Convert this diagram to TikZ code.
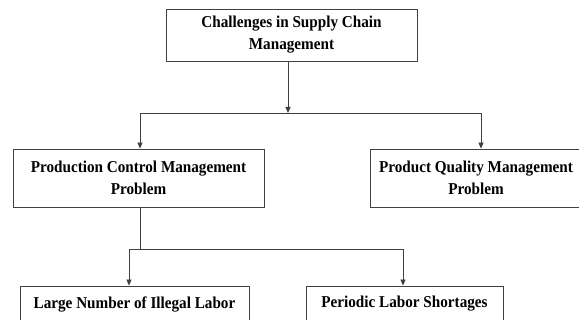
\documentclass[tikz,border=0pt]{standalone}
\usepackage{fontspec}
\setmainfont{Liberation Serif}[FakeStretch=0.915]
\usetikzlibrary{arrows.meta}

\begin{document}
\begin{tikzpicture}[x=1pt, y=-1pt,
    box/.style={draw=black!75, line width=0.8pt, align=center, inner sep=0pt,
        font=\fontsize{16.6}{22}\selectfont\bfseries},
    link/.style={draw=black!75, line width=0.8pt},
    >={Triangle[length=6pt, width=5pt]}]
    \useasboundingbox (0,0) rectangle (579,320);
    \clip (0,0) rectangle (579,320);

    % top level
    \node[box, minimum width=251pt, minimum height=52pt] (scm) at (291.5,35) {Challenges in Supply Chain\\Management};

    % second level
    \node[box, minimum width=251pt, minimum height=58pt] (pcm) at (138.5,178) {Production Control Management\\Problem};
    \node[box, minimum width=212pt, minimum height=58pt] (pqm) at (476,178) {Product Quality Management\\Problem};

    % third level
    \node[box, minimum width=229pt, minimum height=36pt] (ill) at (134.5,304) {Large Number of Illegal Labor};
    \node[box, minimum width=197pt, minimum height=36pt] (per) at (404.5,304) {Periodic Labor Shortages};

    % branch points
    \coordinate (s1) at (288,113);
    \coordinate (a1) at (140,113);
    \coordinate (a2) at (481,113);
    \coordinate (b0) at (140,249);
    \coordinate (b1) at (129,249);
    \coordinate (b2) at (403,249);

    \draw [link, ->] (scm.south -| s1) -- (s1);
    \draw [link] (a1) -- (a2);
    \draw [link, ->] (a1) -- (a1 |- pcm.north);
    \draw [link, ->] (a2) -- (a2 |- pqm.north);

    \draw [link] (pcm.south -| b0) -- (b0);
    \draw [link] (b1) -- (b2);
    \draw [link, ->] (b1) -- (b1 |- ill.north);
    \draw [link, ->] (b2) -- (b2 |- per.north);
\end{tikzpicture}
\end{document}
